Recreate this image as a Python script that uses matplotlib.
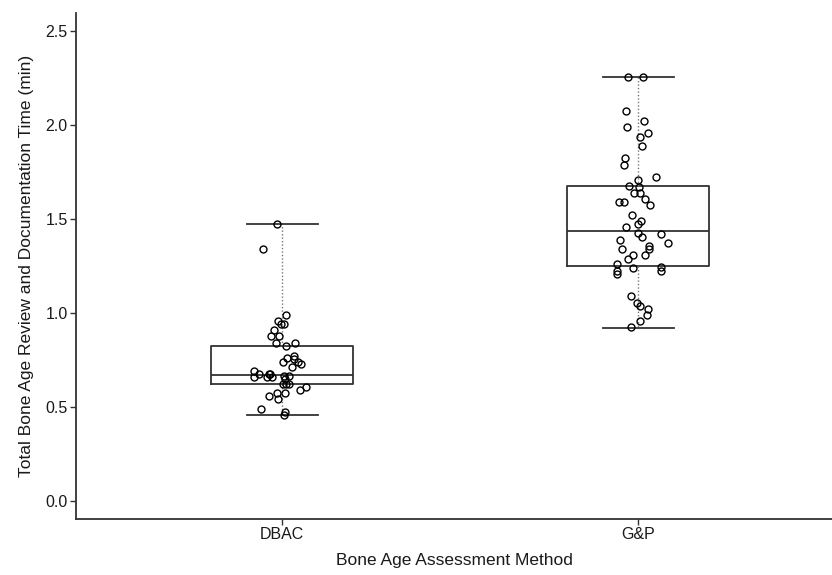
import numpy as np
import matplotlib.pyplot as plt

plt.rcParams['font.family'] = ['Liberation Sans', 'DejaVu Sans']

# groups
methods = ['DBAC', 'G&P']

# box statistics (min, q1, median, q3, max)
dbac_box = [0.456, 0.624, 0.669, 0.823, 1.472]
gp_box = [0.920, 1.250, 1.438, 1.677, 2.255]

# individual times (min) and horizontal jitter (category units)
dbac_time = [1.472, 1.340, 0.990, 0.958, 0.940, 0.940, 0.909, 0.875, 0.875, 0.839,
             0.840, 0.824, 0.773, 0.759, 0.755, 0.741, 0.738, 0.727, 0.714, 0.691,
             0.660, 0.676, 0.676, 0.676, 0.660, 0.660, 0.665, 0.665, 0.647, 0.624,
             0.624, 0.624, 0.608, 0.590, 0.576, 0.576, 0.560, 0.541, 0.491, 0.475,
             0.456]
dbac_jit = [-0.016, -0.054, 0.011, -0.013, -0.003, 0.006, -0.024, -0.032, -0.009, -0.019,
            0.036, 0.011, 0.034, 0.013, 0.033, 0.001, 0.043, 0.053, 0.026, -0.079,
            -0.079, -0.065, -0.038, -0.034, -0.043, -0.029, 0.004, 0.020, 0.008, 0.002,
            0.011, 0.020, 0.067, 0.051, -0.015, 0.008, -0.037, -0.011, -0.061, 0.008,
            0.004]

gp_time = [2.257, 2.257, 2.073, 2.023, 1.988, 1.956, 1.938, 1.888, 1.823, 1.789,
           1.723, 1.707, 1.674, 1.672, 1.640, 1.640, 1.607, 1.589, 1.589, 1.573,
           1.523, 1.489, 1.473, 1.456, 1.424, 1.422, 1.406, 1.390, 1.374, 1.356,
           1.339, 1.340, 1.309, 1.309, 1.289, 1.259, 1.239, 1.225, 1.207, 1.243,
           1.225, 1.090, 1.055, 1.039, 1.023, 0.989, 0.957, 0.924]
gp_jit = [-0.029, 0.013, -0.033, 0.016, -0.031, 0.029, 0.005, 0.010, -0.036, -0.041,
          0.050, -0.001, -0.027, 0.003, -0.012, 0.004, 0.020, -0.055, -0.041, 0.034,
          -0.018, 0.008, 0.001, -0.033, 0.001, 0.064, 0.010, -0.052, 0.083, 0.032,
          0.031, -0.044, -0.015, 0.019, -0.029, -0.060, -0.015, -0.060, -0.058, 0.065,
          0.065, -0.019, -0.003, 0.006, 0.027, 0.026, 0.005, -0.019]

fig = plt.figure(figsize=(8.32, 5.75), dpi=100)
ax = fig.add_axes([76 / 832, 56 / 575, 1 - 76 / 832, (519 - 13) / 575])

stats = []
for name, b in zip(methods, [dbac_box, gp_box]):
    stats.append(dict(label=name, whislo=b[0], q1=b[1], med=b[2], q3=b[3], whishi=b[4], fliers=[]))

dark = '#333333'
ax.bxp(stats, positions=[1, 2], widths=0.4, capwidths=0.2, showfliers=False,
       boxprops=dict(color=dark, linewidth=1.3),
       medianprops=dict(color=dark, linewidth=1.3),
       whiskerprops=dict(color='#777777', linewidth=1.0, linestyle=(0, (1, 1.5))),
       capprops=dict(color=dark, linewidth=1.3))

# jittered points
for pos, t, j in [(1, dbac_time, dbac_jit), (2, gp_time, gp_jit)]:
    ax.plot(pos + np.array(j), t, 'o', ms=5, mfc='none', mec='black', mew=1.0, zorder=4)

ax.set_xlim(0.42, 2.545)
ax.set_ylim(-0.096, 2.596)
ax.set_xticks([1, 2])
ax.set_xticklabels(methods)
ax.set_yticks([0.0, 0.5, 1.0, 1.5, 2.0, 2.5])
ax.set_yticklabels(['0.0', '0.5', '1.0', '1.5', '2.0', '2.5'])

for s in ['top', 'right']:
    ax.spines[s].set_visible(False)
for s in ['left', 'bottom']:
    ax.spines[s].set_color(dark)
    ax.spines[s].set_linewidth(1.3)

ax.tick_params(axis='both', length=4, width=1.0, color=dark, labelsize=11.5,
               labelcolor='#1a1a1a', pad=2)

ax.set_xlabel('Bone Age Assessment Method', fontsize=12.5, color='#1a1a1a', labelpad=8)
ax.set_ylabel('Total Bone Age Review and Documentation Time (min)', fontsize=12.5,
              color='#1a1a1a', labelpad=8)

fig.savefig('out.png', dpi=100)
